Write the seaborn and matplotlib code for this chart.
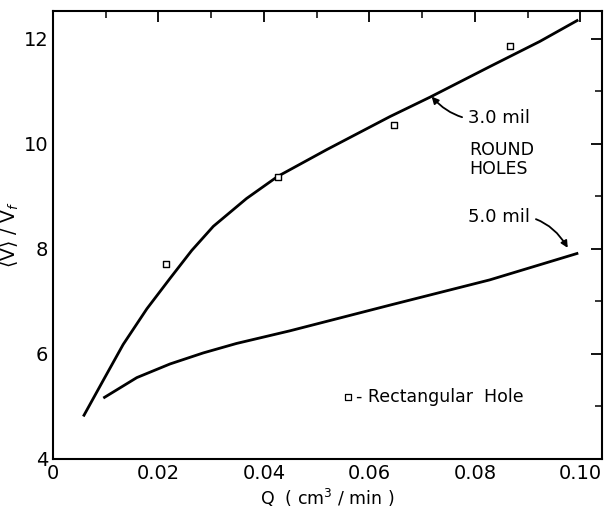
import matplotlib
matplotlib.use("Agg")
import matplotlib.pyplot as plt
import seaborn as sns
import pandas as pd
from matplotlib.ticker import MultipleLocator, FixedLocator

# Data
q_3mil = [0.00575, 0.00954, 0.0133, 0.0178, 0.0222, 0.0263, 0.0304, 0.0367, 0.0426,
          0.0519, 0.0639, 0.0715, 0.0828, 0.0923, 0.0996]
v_3mil = [4.81, 5.50, 6.18, 6.86, 7.44, 7.97, 8.43, 8.96, 9.38,
          9.89, 10.52, 10.89, 11.47, 11.95, 12.36]
q_5mil = [0.00954, 0.0159, 0.0222, 0.0285, 0.0348, 0.0449, 0.0639, 0.0828, 0.0996]
v_5mil = [5.16, 5.55, 5.81, 6.02, 6.20, 6.44, 6.93, 7.41, 7.92]
q_rect = [0.0214, 0.0427, 0.0646, 0.0866]
v_rect = [7.71, 9.37, 10.35, 11.87]

x_ticks = [0, 0.02, 0.04, 0.06, 0.08, 0.10]
x_ticklabels = ["0", "0.02", "0.04", "0.06", "0.08", "0.10"]
y_ticks = [4, 6, 8, 10, 12]
y_ticklabels = ["4", "6", "8", "10", "12"]

sns.set_theme(style="white")
plt.rcParams['font.family'] = ['DejaVu Sans']

df3 = pd.DataFrame({"Q": q_3mil, "V": v_3mil})
df5 = pd.DataFrame({"Q": q_5mil, "V": v_5mil})
dfr = pd.DataFrame({"Q": q_rect, "V": v_rect})

fig = plt.figure(figsize=(6.04, 5.08), dpi=100)
ax = fig.add_axes([53/604, 49/508, 549/604, 448/508])

line_kw = dict(color="black", linewidth=2.0, sort=True)
sns.lineplot(data=df3, x="Q", y="V", ax=ax, **line_kw)
sns.lineplot(data=df5, x="Q", y="V", ax=ax, **line_kw)
for ln in ax.lines:
    ln.set_solid_joinstyle("round")
    ln.set_solid_capstyle("butt")
sns.scatterplot(data=dfr, x="Q", y="V", ax=ax, marker="s", s=22, facecolor="white",
                edgecolor="black", linewidth=1.0, zorder=5)

ax.set_xlim(0, 0.1041)
ax.set_ylim(4, 12.53)
ax.xaxis.set_major_locator(FixedLocator(x_ticks))
ax.set_xticklabels(x_ticklabels)
ax.yaxis.set_major_locator(FixedLocator(y_ticks))
ax.set_yticklabels(y_ticklabels)
ax.xaxis.set_minor_locator(MultipleLocator(0.01))
ax.yaxis.set_minor_locator(MultipleLocator(1))
ax.tick_params(which="both", direction="in", top=True, right=True, color="black",
               labelsize=14, labelcolor="black")
ax.tick_params(which="major", length=8, width=1.3)
ax.tick_params(which="minor", length=5, width=1.1)
for sp in ax.spines.values():
    sp.set_color("black")
    sp.set_linewidth(1.5)

ax.set_xlabel(r"Q  ( cm$^3$ / min )", fontsize=12.5, color="black", labelpad=3)
ax.set_ylabel(r"$\langle\mathrm{V}\rangle$ / V$_f$", fontsize=13.5, color="black", labelpad=2)

ax.annotate("3.0 mil", xy=(0.0718, 10.90), xytext=(0.0787, 10.50), fontsize=13,
            va="center", ha="left", color="black",
            arrowprops=dict(arrowstyle="-|>", color="black", lw=1.3,
                            connectionstyle="arc3,rad=-0.3", shrinkA=2, shrinkB=0,
                            mutation_scale=10))
ax.text(0.0790, 9.70, "ROUND\nHOLES", fontsize=12.5, va="center", ha="left",
        color="black", linespacing=1.1)
ax.annotate("5.0 mil", xy=(0.0976, 8.02), xytext=(0.0787, 8.61), fontsize=13,
            va="center", ha="left", color="black",
            arrowprops=dict(arrowstyle="-|>", color="black", lw=1.3,
                            connectionstyle="arc3,rad=-0.35", shrinkA=2, shrinkB=0,
                            mutation_scale=10))
ax.scatter([0.0559], [5.18], marker="s", s=16, facecolor="white", edgecolor="black",
           linewidth=0.9, zorder=5)
ax.text(0.0574, 5.18, "- Rectangular  Hole", fontsize=12.5, va="center", ha="left",
        color="black")

fig.savefig("out.png", dpi=100)
